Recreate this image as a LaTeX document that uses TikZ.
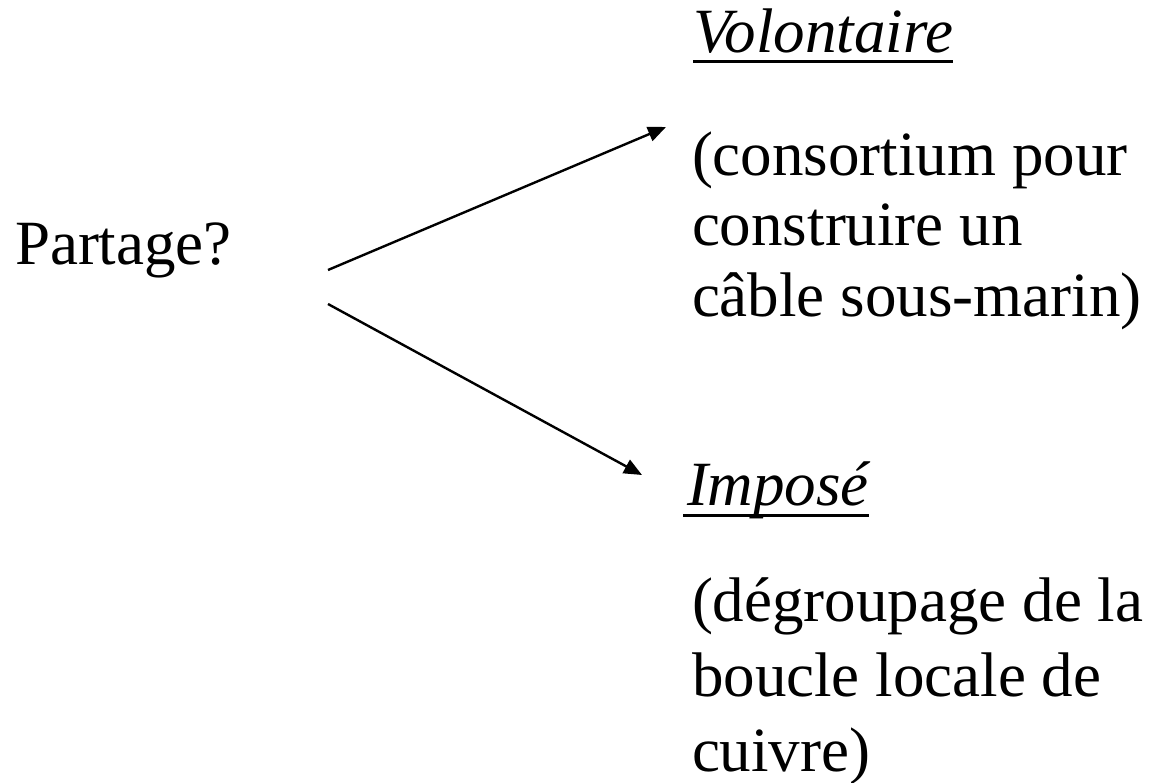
\documentclass[tikz,border=0pt]{standalone}
\usepackage{fontspec}
\setmainfont{Liberation Serif}
\usetikzlibrary{arrows.meta}
\tikzset{
  txt/.style={anchor=base west, inner sep=0pt, outer sep=0pt, align=left, font=\fontsize{63}{71}\selectfont},
  ital/.style={txt, font=\fontsize{63}{71}\selectfont\itshape},
  conn/.style={line width=2.4pt, -{Triangle[length=18pt,width=15pt]}},
  uline/.style={line width=3pt}
}
\begin{document}
\begin{tikzpicture}[x=1pt,y=-1pt]
\useasboundingbox (0,0) rectangle (1153,783);
\node[txt] (part) at (15,265) {Partage?};
\node[ital] (vol) at (693,53) {Volontaire};
\node[txt] (volt) at (692,317) {(consortium pour\\construire un\\câble sous-marin)};
\node[ital] (imp) at (687,505) {Imposé};
\node[txt, font=\fontsize{63}{75}\selectfont] (impt) at (692,771) {(dégroupage de la\\boucle locale de\\cuivre)};
\draw[uline] ([yshift=-9pt]vol.base west) -- ([yshift=-9pt]vol.base east);
\draw[uline] ([xshift=-4pt,yshift=-10pt]imp.base west) -- ([yshift=-10pt]imp.base east);
\coordinate (s1) at (328,270);
\coordinate (e1) at (666,127);
\coordinate (s2) at (328,304);
\coordinate (e2) at (642,475);
\draw[conn] (s1) -- (e1);
\draw[conn] (s2) -- (e2);
\end{tikzpicture}
\end{document}
